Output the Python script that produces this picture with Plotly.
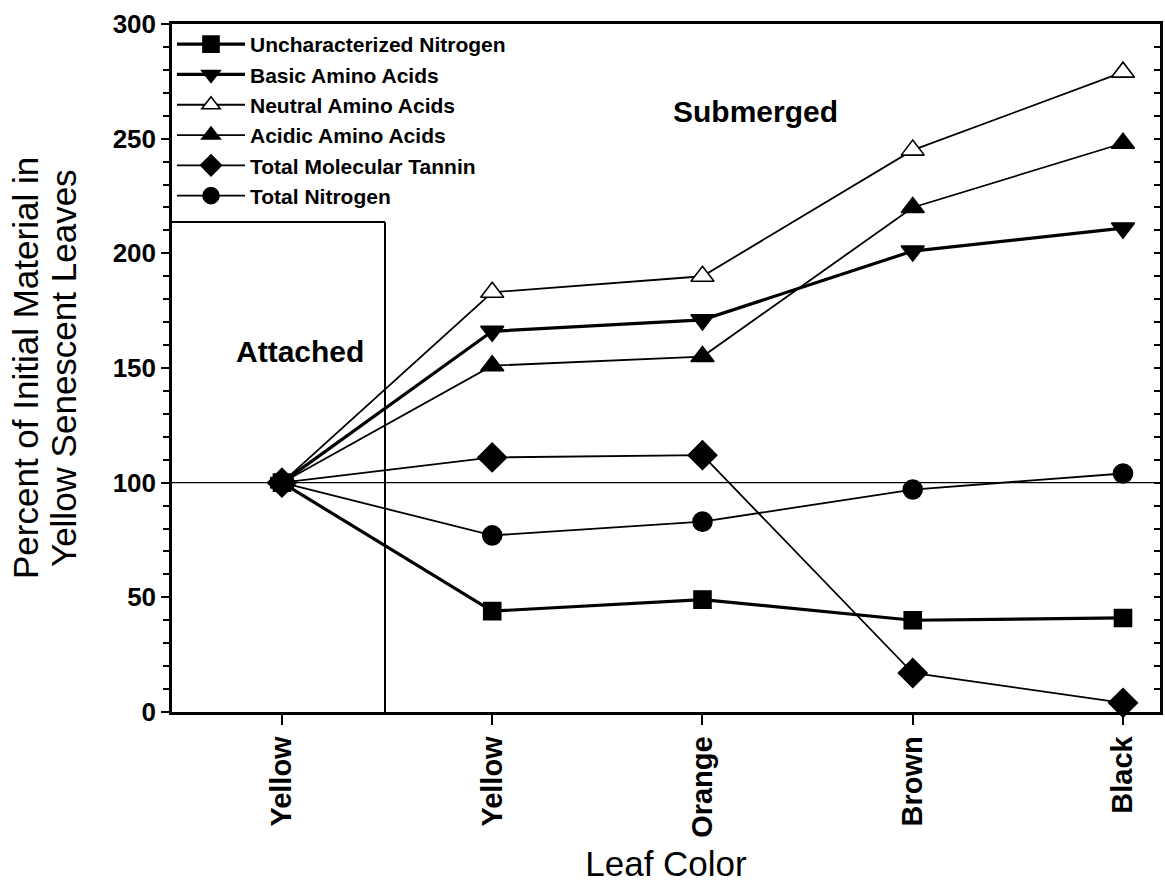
import plotly.graph_objects as go

# Leaf colour stages (attached yellow leaf, then submerged stages)
stage_labels = ["Yellow", "Yellow", "Orange", "Brown", "Black"]
stage_pos = [0, 1, 2, 3, 4]

# Percent of initial material in yellow senescent leaves
uncharacterized_n = [100, 44, 49, 40, 41]
basic_aa = [100, 166, 171, 201, 211]
neutral_aa = [100, 183, 190, 245, 279]
acidic_aa = [100, 151, 155, 220, 248]
tannin = [100, 111, 112, 17, 4]
total_n = [100, 77, 83, 97, 104]

y_title_lines = ["Percent of Initial Material in", "Yellow Senescent Leaves"]

FONT = "Arial, Liberation Sans, Helvetica, sans-serif"

series = [
    ("Uncharacterized Nitrogen", uncharacterized_n, "square", 17, "black", 3.2),
    ("Basic Amino Acids", basic_aa, "triangle-down", 20, "black", 3.2),
    ("Neutral Amino Acids", neutral_aa, "triangle-up", 20, "white", 1.8),
    ("Acidic Amino Acids", acidic_aa, "triangle-up", 20, "black", 1.8),
    ("Total Molecular Tannin", tannin, "diamond", 22, "black", 1.8),
    ("Total Nitrogen", total_n, "circle", 19, "black", 1.8),
]

fig = go.Figure()
for name, vals, sym, size, fill, lw in series:
    fig.add_trace(go.Scatter(
        x=stage_pos, y=vals, name=name, mode="lines+markers",
        line=dict(color="black", width=lw),
        marker=dict(symbol=sym, size=size, color=fill,
                    line=dict(color="black", width=1.6)),
        cliponaxis=False,
    ))

# empty trace carrying the right-hand axis
fig.add_trace(go.Scatter(x=[None], y=[None], yaxis="y2", showlegend=False,
                         hoverinfo="skip"))

x_lo, x_hi = -0.523, 4.176
legend_bottom = 213.7
divider_x = 0.49

# reference line at 100 %
fig.add_shape(type="line", xref="x", yref="y", x0=x_lo, x1=x_hi, y0=100, y1=100,
              line=dict(color="black", width=1.2), layer="below")
# attached / submerged divider
fig.add_shape(type="line", xref="x", yref="y", x0=divider_x, x1=divider_x,
              y0=0, y1=legend_bottom, line=dict(color="black", width=2))
# legend frame bottom edge
fig.add_shape(type="line", xref="x", yref="y", x0=x_lo, x1=divider_x,
              y0=legend_bottom, y1=legend_bottom, line=dict(color="black", width=2))

fig.add_annotation(x=2.25, y=262, xref="x", yref="y", text="<b>Submerged</b>",
                   showarrow=False, font=dict(family=FONT, size=30, color="black"))
fig.add_annotation(x=0.086, y=157, xref="x", yref="y", text="<b>Attached</b>",
                   showarrow=False, font=dict(family=FONT, size=30, color="black"))

# two-line y-axis title, one annotation per line
for line_text, shift in zip(y_title_lines, [-147, -109]):
    fig.add_annotation(x=0, y=0.5, xref="paper", yref="paper", text=line_text,
                       textangle=-90, showarrow=False, xanchor="center",
                       yanchor="middle", xshift=shift,
                       font=dict(family=FONT, size=35, color="black"))

fig.update_layout(
    width=1165, height=884,
    margin=dict(l=172, r=5, t=24, b=172),
    paper_bgcolor="white", plot_bgcolor="white",
    font=dict(family=FONT, color="black"),
    showlegend=True,
    legend=dict(x=0, y=1, xanchor="left", yanchor="top",
                bgcolor="rgba(0,0,0,0)", borderwidth=0,
                font=dict(family=FONT, size=21, color="black", weight="bold"),
                itemwidth=68, tracegroupgap=0),
    xaxis=dict(
        range=[x_lo, x_hi], tickmode="array", tickvals=stage_pos, ticktext=stage_labels,
        tickangle=-90, ticks="outside", ticklen=10, tickwidth=2, tickcolor="black",
        tickfont=dict(family=FONT, size=29, color="black", weight="bold"),
        showline=True, linecolor="black", linewidth=2.5, mirror=True,
        showgrid=False, zeroline=False,
        title=dict(text="Leaf Color", font=dict(family=FONT, size=35, color="black"),
                   standoff=15),
    ),
    yaxis=dict(
        range=[0, 300], tickmode="linear", tick0=0, dtick=50,
        ticks="outside", ticklen=8, tickwidth=2, tickcolor="black",
        minor=dict(dtick=10, ticks="outside", ticklen=6, tickwidth=2, tickcolor="black"),
        tickfont=dict(family=FONT, size=26, color="black", weight="bold"),
        showline=True, linecolor="black", linewidth=2.5,
        showgrid=False, zeroline=False,
    ),
    yaxis2=dict(
        range=[0, 300], overlaying="y", side="right", showticklabels=False,
        tickmode="linear", tick0=0, dtick=10,
        ticks="inside", ticklen=6, tickwidth=2, tickcolor="black",
        showline=True, linecolor="black", linewidth=2.5,
        showgrid=False, zeroline=False,
    ),
)

fig.write_html("out.html")
